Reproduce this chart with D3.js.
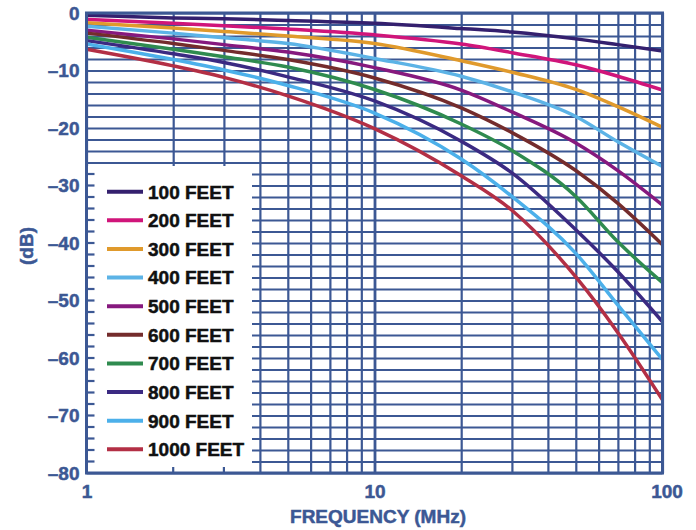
<!DOCTYPE html>
<html>
<head>
<meta charset="utf-8">
<script src="https://cdn.jsdelivr.net/npm/d3@7"></script>
<style>
  body { margin: 0; background: #fff; }
  svg { display: block; font-family: "Liberation Sans", Arial, sans-serif; font-weight: bold; }
</style>
</head>
<body>
<div id="chart"></div>
<script>
// frequencies (MHz) the curves were read at
const freqs = [1, 2, 3, 5, 10, 20, 30, 50, 70, 100];
const cableLengths = ["100 FEET", "200 FEET", "300 FEET", "400 FEET", "500 FEET",
                      "600 FEET", "700 FEET", "800 FEET", "900 FEET", "1000 FEET"];
const loss100  = [-0.4, -0.85, -1.0, -1.3, -1.8, -2.7, -3.3, -4.5, -5.5, -6.6];
const loss200  = [-1.1, -1.8, -2.2, -2.8, -3.8, -5.4, -6.9, -9.0, -11.0, -13.4];
const loss300  = [-1.7, -2.6, -3.2, -4.0, -5.3, -8.3, -10.3, -13.3, -16.3, -19.9];
const loss400  = [-2.3, -3.5, -4.3, -5.3, -7.9, -11.0, -13.7, -18.0, -22.4, -26.7];
const loss500  = [-3.0, -4.5, -5.5, -6.8, -9.5, -13.4, -17.2, -22.6, -27.4, -33.4];
const loss600  = [-3.5, -5.3, -6.5, -8.1, -11.3, -16.5, -20.8, -27.4, -33.1, -40.3];
const loss700  = [-4.2, -6.3, -7.6, -9.4, -13.3, -19.3, -23.9, -31.9, -39.8, -46.9];
const loss800  = [-4.8, -7.1, -8.6, -11.1, -15.3, -22.3, -27.8, -37.7, -45.0, -53.7];
const loss900  = [-5.4, -8.1, -9.9, -12.6, -17.4, -25.4, -31.9, -41.8, -50.8, -60.3];
const loss1000 = [-6.3, -9.2, -11.2, -14.4, -20.1, -28.3, -34.3, -45.9, -55.6, -67.3];
const colors = ["#34206e", "#d0157a", "#e09a2c", "#5cb3e6", "#86197e",
                "#742c2c", "#2f8b4f", "#3b2a82", "#4cb0ea", "#b32f45"];
const yTicks = [0, -10, -20, -30, -40, -50, -60, -70, -80];
const xTicks = [1, 10, 100];

const series = [loss100, loss200, loss300, loss400, loss500,
                loss600, loss700, loss800, loss900, loss1000];

const W = 696, H = 530;
const margin = {left: 86.5, top: 13, right: 33.5, bottom: 57};
const w = W - margin.left - margin.right, h = H - margin.top - margin.bottom;
const axisColor = "#3c5894";

const svg = d3.select("#chart").append("svg").attr("width", W).attr("height", H);
const g = svg.append("g").attr("transform", `translate(${margin.left},${margin.top})`);

const x = d3.scaleLog().domain([1, 100]).range([0, w]);
const y = d3.scaleLinear().domain([-80, 0]).range([h, 0]);

// grid: horizontal every 2 dB, vertical at 1..10, 20..100
const hGrid = g.append("g").call(d3.axisLeft(y).tickValues(d3.range(-80, 1, 2)).tickSize(-w).tickFormat(""));
const vGrid = g.append("g")
  .call(d3.axisBottom(x).tickValues([1,2,3,4,5,6,7,8,9,10,20,30,40,50,60,70,80,90,100]).tickSize(h).tickFormat(""));
[hGrid, vGrid].forEach(s => {
  s.select(".domain").remove();
  s.selectAll("line").attr("stroke", axisColor).attr("stroke-width", 2.2);
});
vGrid.selectAll("line").filter(d => d === 10).attr("stroke-width", 2.8);

// curves
const line = d3.line().x(d => x(d[0])).y(d => y(d[1])).curve(d3.curveMonotoneX);
g.append("g").selectAll("path").data(series).join("path")
  .attr("d", s => line(freqs.map((f, i) => [f, s[i]])))
  .attr("fill", "none")
  .attr("stroke", (s, i) => colors[i])
  .attr("stroke-width", 3.5);

// legend box covering the grid
const legX0 = 1.5, legX1 = 252 - margin.left, legY0 = 166 - margin.top;
g.append("rect").attr("x", legX0).attr("y", legY0)
  .attr("width", legX1 - legX0).attr("height", h - legY0).attr("fill", "#fff");
// small ticks on the axes inside the legend area
g.append("g").selectAll("line").data(d3.range(-78, -27, 2)).join("line")
  .attr("x1", 0).attr("x2", 8).attr("y1", d => y(d)).attr("y2", d => y(d))
  .attr("stroke", axisColor).attr("stroke-width", 2.2);
g.append("g").selectAll("line").data([2, 3]).join("line")
  .attr("x1", d => x(d)).attr("x2", d => x(d)).attr("y1", h).attr("y2", h - 6)
  .attr("stroke", axisColor).attr("stroke-width", 2.2);

const leg = g.append("g").selectAll("g").data(cableLengths).join("g")
  .attr("transform", (d, i) => `translate(${107 - margin.left},${191.7 - margin.top + i * 28.62})`);
leg.append("line").attr("x1", 0).attr("x2", 36)
  .attr("stroke", (d, i) => colors[i]).attr("stroke-width", 4);
leg.append("text").attr("x", 41).attr("dy", "0.36em")
  .attr("font-size", 19).attr("fill", "#111")
  .attr("stroke", "#111").attr("stroke-width", 0.5)
  .text(d => d);

// frame
g.append("rect").attr("width", w).attr("height", h)
  .attr("fill", "none").attr("stroke", axisColor).attr("stroke-width", 3);

// tick labels
const yAx = g.append("g").call(d3.axisLeft(y).tickValues(yTicks).tickSize(0).tickPadding(7)
  .tickFormat(d => d === 0 ? "0" : "\u2013" + Math.abs(d)));
const xAx = g.append("g").attr("transform", `translate(0,${h})`)
  .call(d3.axisBottom(x).tickValues(xTicks).tickSize(0).tickPadding(12).tickFormat(d3.format("d")));
[yAx, xAx].forEach(s => {
  s.select(".domain").remove();
  s.selectAll("text").attr("font-size", 19).attr("font-family", "Liberation Sans, Arial, sans-serif")
    .attr("font-weight", "bold").attr("fill", axisColor)
    .attr("stroke", axisColor).attr("stroke-width", 0.5);
});
xAx.selectAll("text").filter(d => d === 100).attr("dx", 4);

// axis titles
svg.append("text").attr("x", 378).attr("y", 523).attr("text-anchor", "middle")
  .attr("font-size", 19).attr("fill", axisColor).attr("stroke", axisColor).attr("stroke-width", 0.5)
  .text("FREQUENCY (MHz)");
svg.append("text").attr("transform", "translate(33,246) rotate(-90)").attr("text-anchor", "middle")
  .attr("font-size", 19).attr("fill", axisColor).attr("stroke", axisColor).attr("stroke-width", 0.5)
  .text("(dB)");
</script>
</body>
</html>
